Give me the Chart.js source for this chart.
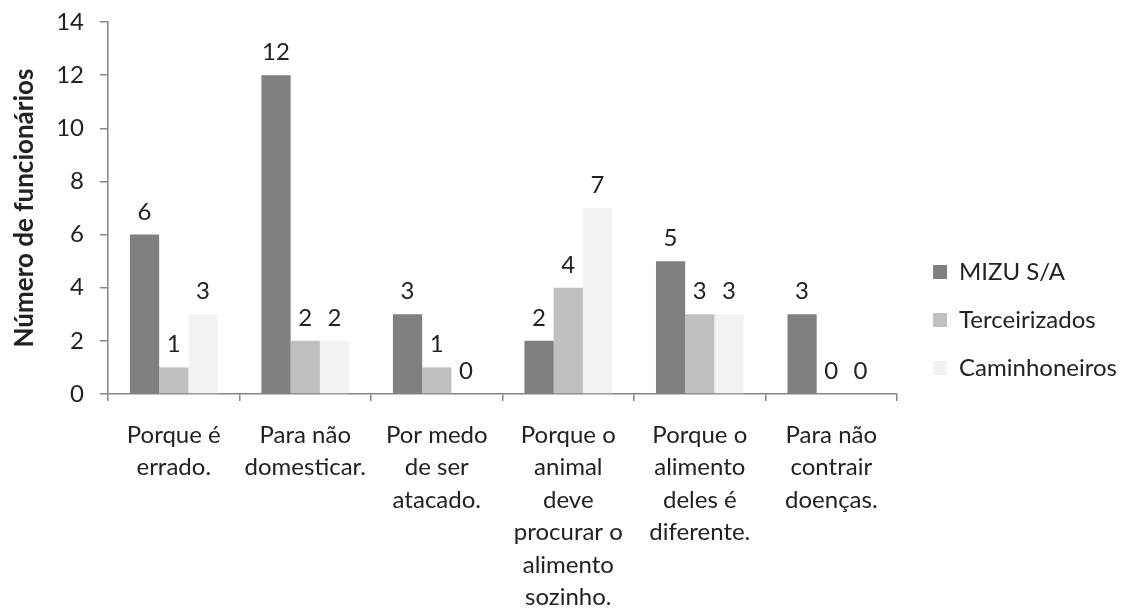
<!DOCTYPE html>
<html><head><meta charset="utf-8">
<script src="https://cdn.jsdelivr.net/npm/chart.js@4.4.0/dist/chart.umd.min.js"></script>
<style>html,body{margin:0;padding:0;background:#fff;}#wrap{width:1130px;height:609px;}</style>
</head><body><div id="wrap"><canvas id="c" width="1130" height="609"></canvas></div>
<script>
const categories = [
  ["Porque é","errado."],
  ["Para não","domesticar."],
  ["Por medo","de ser","atacado."],
  ["Porque o","animal","deve","procurar o","alimento","sozinho."],
  ["Porque o","alimento","deles é","diferente."],
  ["Para não","contrair","doenças."]
];
const seriesNames = ["MIZU S/A","Terceirizados","Caminhoneiros"];
const mizu = [6,12,3,2,5,3];
const terceirizados = [1,2,1,4,3,0];
const caminhoneiros = [3,2,0,7,3,0];
const yTicks = [0,2,4,6,8,10,12,14];

const FONT = "Lato";
const FS = 24;
const TXT = "#222";
const AXIS = "#868686";
const LEGEND_GAP = 12;
const LEGEND_SHIFT_Y = 9;

const valueLabels = {
  id: 'valueLabels',
  afterDatasetsDraw(chart) {
    const ctx = chart.ctx;
    ctx.save();
    ctx.font = FS + "px " + FONT;
    ctx.fillStyle = TXT;
    ctx.textAlign = 'center';
    ctx.textBaseline = 'alphabetic';
    chart.data.datasets.forEach((ds, i) => {
      const meta = chart.getDatasetMeta(i);
      meta.data.forEach((bar, j) => {
        ctx.fillText(String(ds.data[j]), bar.x, bar.y - 15);
      });
    });
    ctx.restore();
  }
};

const legendGap = {
  id: 'legendGap',
  afterInit(chart) {
    const lg = chart.legend;
    if (lg && !lg._patched) {
      const orig = lg.fit.bind(lg);
      lg.fit = function() { orig(); this.width += LEGEND_GAP; };
      lg._patched = true;
    }
  },
  afterLayout(chart) {
    const lg = chart.legend;
    if (lg) { lg.left += LEGEND_GAP; lg.top += LEGEND_SHIFT_Y; }
  }
};

new Chart(document.getElementById('c'), {
  type: 'bar',
  data: {
    labels: categories,
    datasets: [
      {label: seriesNames[0], data: mizu, backgroundColor: '#808080'},
      {label: seriesNames[1], data: terceirizados, backgroundColor: '#c0c0c0'},
      {label: seriesNames[2], data: caminhoneiros, backgroundColor: '#f2f2f2'}
    ]
  },
  options: {
    responsive: false,
    animation: false,
    devicePixelRatio: 1,
    layout: {padding: {top: 22, right: 3, left: 0, bottom: 0}},
    datasets: {bar: {categoryPercentage: 0.667, barPercentage: 1.0, borderWidth: 0}},
    plugins: {
      tooltip: {enabled: false},
      legend: {
        position: 'right',
        labels: {
          font: {family: FONT, size: FS},
          color: TXT,
          boxWidth: 14,
          boxHeight: 14,
          padding: 24
        }
      }
    },
    scales: {
      x: {
        afterFit(s) { s.height = 215; },
        border: {color: AXIS, width: 1.5},
        grid: {offset: true, drawOnChartArea: false, color: AXIS, tickLength: 7, lineWidth: 1.5},
        ticks: {font: {family: FONT, size: FS, lineHeight: 1.35}, color: TXT, padding: 18, maxRotation: 0, autoSkip: false}
      },
      y: {
        min: 0, max: 14,
        afterFit(s) { s.width = 108; s.paddingTop = 0; s.paddingBottom = 0; },
        afterBuildTicks(s) { s.ticks = yTicks.map(v => ({value: v})); },
        border: {color: AXIS, width: 1.5},
        grid: {drawOnChartArea: false, color: AXIS, tickLength: 8, lineWidth: 1.5},
        ticks: {font: {family: FONT, size: FS}, color: TXT, padding: 16},
        title: {display: true, text: 'Número de funcionários', font: {family: FONT, size: 26, weight: 'bold'}, color: TXT, padding: {top: 9, bottom: 0}}
      }
    }
  },
  plugins: [valueLabels, legendGap]
});
</script>
</body></html>
